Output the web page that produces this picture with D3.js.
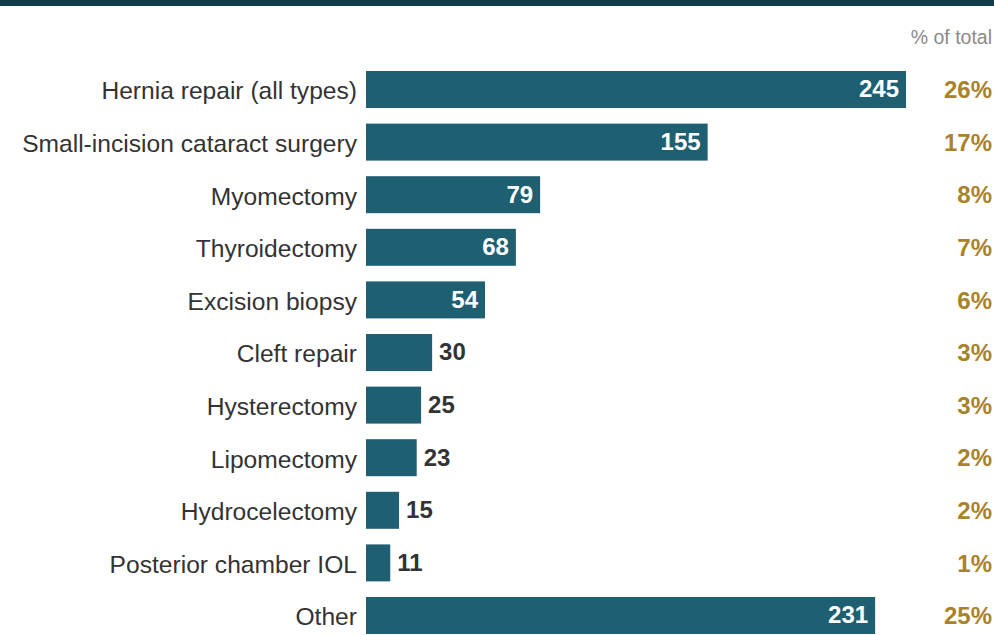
<!DOCTYPE html>
<html>
<head>
<meta charset="utf-8">
<script src="https://cdn.jsdelivr.net/npm/d3@7"></script>
<style>
  body { margin: 0; background: #fff; }
  svg { display: block; font-family: "Liberation Sans", Arial, sans-serif; }
</style>
</head>
<body>
<div id="container"></div>
<script>
// data
let procedures = ["Hernia repair (all types)", "Small-incision cataract surgery", "Myomectomy",
  "Thyroidectomy", "Excision biopsy", "Cleft repair", "Hysterectomy", "Lipomectomy",
  "Hydrocelectomy", "Posterior chamber IOL", "Other"];
let counts = [245, 155, 79, 68, 54, 30, 25, 23, 15, 11, 231];
let shares = ["26%", "17%", "8%", "7%", "6%", "3%", "3%", "2%", "2%", "1%", "25%"];

let w = 994;
let h = 635;
let barColor = "#1f5f72";

let rows = procedures.map(function(p, i){
  return { name: p, count: counts[i], share: shares[i] };
});

let viz = d3.select("#container").append("svg")
  .attr("width", w)
  .attr("height", h);

// top band
viz.append("rect")
  .attr("x", 0).attr("y", 0)
  .attr("width", w).attr("height", 6)
  .attr("fill", "#133c4a");

let xScale = d3.scaleLinear().domain([0, 245]).range([366, 906]);
let yScale = d3.scaleBand()
  .domain(procedures)
  .range([63.2, 641.8])
  .paddingInner(0.2966)
  .paddingOuter(0.1483);

viz.append("text")
  .attr("x", 992)
  .attr("y", 44)
  .attr("text-anchor", "end")
  .attr("font-size", 19.5)
  .attr("fill", "#8a8a8a")
  .text("% of total");

let groups = viz.selectAll(".row").data(rows)
  .enter()
  .append("g")
  .attr("class", "row");

groups.append("rect")
  .attr("x", xScale(0))
  .attr("y", d => yScale(d.name))
  .attr("width", d => xScale(d.count) - xScale(0))
  .attr("height", yScale.bandwidth())
  .attr("fill", barColor);

groups.append("text")
  .attr("x", 357)
  .attr("y", d => yScale(d.name) + yScale.bandwidth() / 2)
  .attr("dy", "0.4em")
  .attr("text-anchor", "end")
  .attr("font-size", 24.6)
  .attr("fill", "#333")
  .text(d => d.name);

function inside(d){
  return xScale(d.count) - xScale(0) > 100;
}

groups.append("text")
  .attr("x", d => inside(d) ? xScale(d.count) - 7 : xScale(d.count) + 7)
  .attr("y", d => yScale(d.name) + yScale.bandwidth() / 2)
  .attr("dy", "0.33em")
  .attr("text-anchor", d => inside(d) ? "end" : "start")
  .attr("font-size", 24)
  .attr("font-weight", "bold")
  .attr("fill", d => inside(d) ? "#fff" : "#333")
  .text(d => d.count);

groups.append("text")
  .attr("x", 992)
  .attr("y", d => yScale(d.name) + yScale.bandwidth() / 2)
  .attr("dy", "0.36em")
  .attr("text-anchor", "end")
  .attr("font-size", 24)
  .attr("font-weight", "bold")
  .attr("fill", "#a8832a")
  .text(d => d.share);
</script>
</body>
</html>
